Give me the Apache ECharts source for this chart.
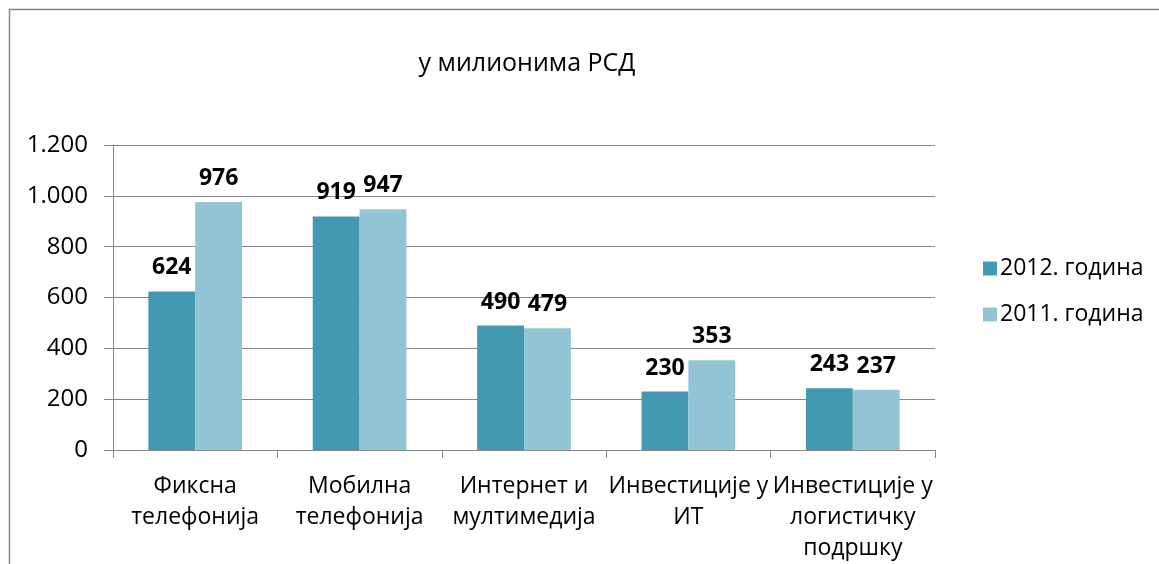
<!DOCTYPE html>
<html>
<head>
<meta charset="utf-8">
<script src="https://cdn.jsdelivr.net/npm/echarts@6/dist/echarts.min.js"></script>
<style>
  html, body { margin: 0; padding: 0; background: #fff; }
  #main { width: 1159px; height: 564px; }
</style>
</head>
<body>
<div id="main"></div>
<script>
const categories = [
  "Фиксна\nтелефонија",
  "Мобилна\nтелефонија",
  "Интернет и\nмултимедија",
  "Инвестиције у\nИТ",
  "Инвестиције у\nлогистичку\nподршку"
];
const seriesNames = ["2012. година", "2011. година"];
const values2012 = [624, 919, 490, 230, 243];
const values2011 = [976, 947, 479, 353, 237];
const yTicks = { min: 0, max: 1200, interval: 200 };

const font = "'Open Sans', sans-serif";
const gray = "#868686";

const myChart = echarts.init(document.getElementById("main"));

// separator "." za hiljade
function fmt(v) {
  return String(v).replace(/\B(?=(\d{3})+(?!\d))/g, ".");
}

const labelStyle = {
  show: true,
  position: "top",
  distance: 12,
  color: "#000",
  fontFamily: font,
  fontWeight: "bold",
  fontSize: 23
};

const option = {
  animation: false,
  backgroundColor: "#fff",
  title: {
    text: "у милионима РСД",
    left: 522,
    top: 46,
    textAlign: "center",
    textStyle: { fontFamily: font, fontWeight: "normal", fontSize: 25, color: "#000" }
  },
  legend: {
    orient: "vertical",
    left: 978,
    top: 252,
    itemWidth: 14,
    itemHeight: 14,
    itemGap: 23,
    icon: "rect",
    textStyle: { fontFamily: font, fontSize: 23, color: "#000", padding: [0, 0, 0, -2] },
    data: seriesNames
  },
  grid: { left: 113, top: 145, right: 224, bottom: 113, containLabel: false },
  xAxis: {
    type: "category",
    data: categories,
    axisLine: { lineStyle: { color: gray, width: 1 } },
    axisTick: { show: true, length: 8, lineStyle: { color: gray } },
    axisLabel: {
      interval: 0,
      margin: 21,
      fontFamily: font,
      fontSize: 23,
      lineHeight: 31,
      color: "#000"
    }
  },
  yAxis: {
    type: "value",
    min: yTicks.min,
    max: yTicks.max,
    interval: yTicks.interval,
    axisLine: { show: true, lineStyle: { color: gray, width: 1 } },
    axisTick: { show: true, length: 9, lineStyle: { color: gray } },
    splitLine: { lineStyle: { color: gray, width: 1 } },
    axisLabel: {
      margin: 25,
      fontFamily: font,
      fontSize: 24,
      color: "#000",
      formatter: fmt
    }
  },
  series: [
    {
      name: seriesNames[0],
      type: "bar",
      data: values2012,
      barGap: "0%",
      barCategoryGap: "43%",
      itemStyle: { color: "#4399B1" },
      label: labelStyle
    },
    {
      name: seriesNames[1],
      type: "bar",
      data: values2011,
      itemStyle: { color: "#93C4D6" },
      label: labelStyle
    }
  ],
  graphic: [
    {
      type: "polyline",
      shape: { points: [[9.5, 600], [9.5, 9.5], [1200, 9.5]] },
      style: { stroke: gray, lineWidth: 1.5, fill: null },
      silent: true
    }
  ]
};

myChart.setOption(option);
</script>
</body>
</html>
